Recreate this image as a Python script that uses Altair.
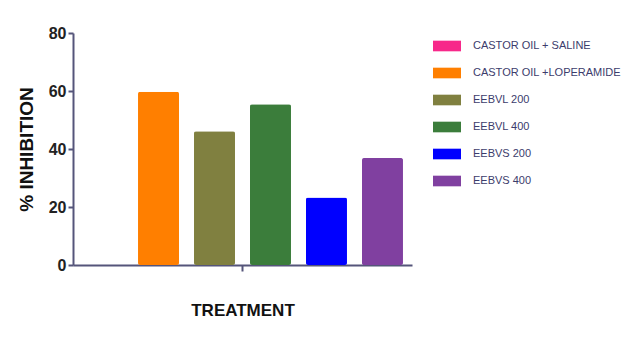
import altair as alt
import pandas as pd

groups = ["CASTOR OIL + SALINE", "CASTOR OIL +LOPERAMIDE", "EEBVL 200", "EEBVL 400", "EEBVS 200", "EEBVS 400"]
values = [0, 59.7, 46.1, 55.4, 23.3, 36.9]
colors = ["#f7288a", "#ff7f00", "#808040", "#3b7d3b", "#0000ff", "#8040a0"]

df = pd.DataFrame({"t": [""] * len(groups), "group": groups, "value": values})

axis_color = "#55557a"

chart = alt.Chart(df).mark_bar(cornerRadius=2).encode(
    x=alt.X("t:N", title="TREATMENT",
            scale=alt.Scale(paddingInner=0, paddingOuter=0),
            axis=alt.Axis(labels=False, tickSize=6, tickWidth=2, tickColor=axis_color,
                          domainColor=axis_color, domainWidth=2,
                          titleFont="Liberation Sans", titleFontSize=17, titleFontWeight="bold",
                          titleColor="#111111", titlePadding=30)),
    xOffset=alt.XOffset("group:N", sort=groups,
                        scale=alt.Scale(paddingInner=0.268, paddingOuter=0.161)),
    y=alt.Y("value:Q", title="% INHIBITION",
            scale=alt.Scale(domain=[0, 80], nice=False),
            axis=alt.Axis(values=[0, 20, 40, 60, 80], grid=False, tickSize=5, tickWidth=2,
                          tickColor=axis_color, domainColor=axis_color, domainWidth=2,
                          labelFont="Liberation Sans", labelFontSize=16, labelFontWeight="bold",
                          labelColor="#222222", labelPadding=2,
                          titleFont="Liberation Sans", titleFontSize=19, titleFontWeight="bold",
                          titleColor="#111111", titlePadding=12)),
    color=alt.Color("group:N", sort=groups,
                    scale=alt.Scale(domain=groups, range=colors),
                    legend=alt.Legend(title=None, orient="none", legendX=360, legendY=-1,
                                      symbolType="M-1,-0.38L1,-0.38L1,0.38L-1,0.38Z",
                                      symbolSize=784, symbolStrokeWidth=0,
                                      labelFont="Liberation Sans", labelFontSize=11,
                                      labelColor="#3c3c6c", labelOffset=12, labelLimit=300,
                                      rowPadding=7, padding=0)),
).properties(
    width=339, height=232,
    background="white",
    autosize=alt.AutoSizeParams(type="none"),
    padding={"left": 65, "top": 25, "right": 220, "bottom": 87},
).configure_view(stroke=None)

chart.save("out.html", embed_options={"renderer": "svg", "actions": False})
